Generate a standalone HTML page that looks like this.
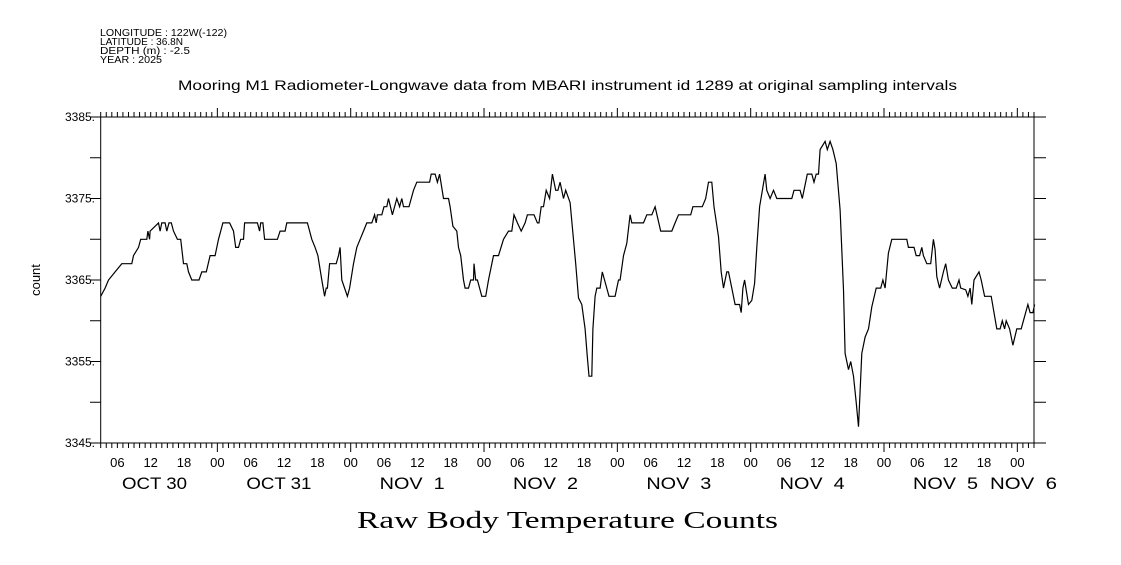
<!DOCTYPE html>
<html><head><meta charset="utf-8">
<style>
body{margin:0;background:#fff;}
svg text{font-family:"Liberation Sans",sans-serif;fill:#000;}
</style></head>
<body>
<svg id="chart" width="1121" height="560" xmlns="http://www.w3.org/2000/svg">
<g>
<text x="100" y="36" font-size="10" textLength="127" lengthAdjust="spacingAndGlyphs">LONGITUDE : 122W(-122)</text>
<text x="100" y="45" font-size="10" textLength="83" lengthAdjust="spacingAndGlyphs">LATITUDE : 36.8N</text>
<text x="100" y="54" font-size="10" textLength="90" lengthAdjust="spacingAndGlyphs">DEPTH (m) : -2.5</text>
<text x="100" y="63" font-size="10" textLength="62" lengthAdjust="spacingAndGlyphs">YEAR : 2025</text>
</g>
<text x="178" y="90" font-size="14" textLength="779" lengthAdjust="spacingAndGlyphs">Mooring M1 Radiometer-Longwave data from MBARI instrument id 1289 at original sampling intervals</text>
<text x="357" y="528" font-size="24" textLength="421" lengthAdjust="spacingAndGlyphs" style="font-family:'Liberation Serif',serif">Raw Body Temperature Counts</text>
<text transform="translate(40,280) rotate(-90)" font-size="13" text-anchor="middle">count</text>
<g id="axes"></g>
<path id="line" fill="none" stroke="#000" stroke-width="1.2"/>
</svg>
<script>
const hours=[0,0.8,1.4,2.6,3.8,5.6,5.9,6.8,7.2,8.3,8.5,8.8,8.9,10.4,10.7,11,11.6,11.9,12.3,12.7,13.1,13.8,14.4,14.9,15.5,15.8,16.4,17.7,18.2,19,19.7,20.6,21.2,22,23.2,23.9,24.3,24.8,25.2,25.7,25.9,28.2,28.6,28.8,29.2,29.5,31.8,32.3,33.2,33.5,37.2,38,38.6,39.1,39.8,40.3,40.6,40.8,41.2,42.4,42.8,43.1,43.4,44.4,44.8,45.5,46.1,46.7,47.3,47.9,48.8,49.3,49.6,49.8,50.6,51,51.5,51.8,52.5,53.3,53.8,54.2,54.5,55.5,56.3,56.9,59.2,59.5,60.2,60.6,61,61.7,62.6,62.9,63.4,64.1,64.4,64.8,65.3,65.6,66.2,66.6,67.1,67.2,67.5,67.8,68.6,69.3,69.8,70.7,71.6,72.5,73.4,74,74.4,75,75.7,76.4,76.8,78,78.6,78.9,79.3,79.7,80.2,80.8,81.3,81.9,82.3,82.7,83.3,83.7,84.5,85.5,86.0,86.6,87.2,87.6,87.9,88.4,88.6,89.0,89.3,89.9,90.3,91.5,92.6,93.2,93.5,94.1,94.7,95.3,95.6,97.7,98.3,99.2,99.8,100.8,102.8,103.4,104.0,106.2,106.6,108.3,108.9,109.4,110.0,110.4,111.2,111.7,112.1,112.7,113.0,113.6,114.2,115.0,115.3,115.6,115.9,116.6,117.2,117.7,118.1,118.6,119.6,119.9,120.5,121.1,121.7,124.4,124.8,125.9,126.3,127.2,128.0,128.4,128.8,129.2,129.5,130.4,130.8,131.3,131.8,132.4,133.1,133.7,134.0,134.6,135.0,135.5,136.0,136.4,137.0,137.6,138.2,138.8,139.6,140.4,140.8,141.2,141.8,142.4,145.1,145.4,146.4,146.8,147.4,147.8,148.1,148.7,149.4,149.9,150.2,150.5,151.0,151.7,152.1,152.6,153.3,154.0,154.5,154.8,155.7,156.1,156.5,156.8,157.2,158.1,158.5,159.1,160.3,161.3,161.9,162.3,162.7,163.0,163.6,164.2,164.9,165.7,166.1,166.9,167.3,167.8,168.1];
const counts=[3363,3364,3365,3366,3367,3367,3368,3369,3370,3370,3371,3370,3371,3372,3371,3372,3372,3371,3372,3372,3371,3370,3370,3367,3367,3366,3365,3365,3366,3366,3368,3368,3370,3372,3372,3371,3369,3369,3370,3370,3372,3372,3371,3372,3372,3370,3370,3371,3371,3372,3372,3370,3369,3368,3365,3363,3364,3364,3367,3367,3368,3369,3365,3363,3364,3367,3369,3370,3371,3372,3372,3373,3372,3373,3373,3374,3374,3375,3373,3375,3374,3375,3374,3374,3376,3377,3377,3378,3378,3377,3378,3375,3375,3374,3371.6,3371,3369,3368,3365,3364,3364,3365,3365,3367,3365,3365,3363,3363,3365,3368,3368,3370,3371,3371,3373,3372,3371,3372,3373,3373,3372,3372,3374,3374,3376,3375,3378,3376,3376,3377,3375,3376,3374.5,3367,3362.8,3362,3359,3355.6,3353.2,3353.2,3359,3363,3364,3364,3366,3363,3363,3365,3365,3368,3369.5,3373,3372,3372,3373,3373,3374,3371,3371,3372,3373,3373,3374,3374,3375,3377,3377,3374,3370.3,3366,3364,3366,3366,3364,3362,3362,3361,3364,3365,3362,3362.5,3364.6,3369,3374,3378,3376,3375,3376,3375,3375,3376,3376,3375,3378,3378,3377,3378,3378,3381,3382,3381,3382,3381,3379.3,3373.6,3363.8,3356,3354,3355,3353.2,3350,3347,3356,3358,3359,3361.7,3364,3364,3365,3364,3368.3,3370,3370,3369,3369,3368,3368,3369,3368,3367,3367,3370,3368.7,3365.4,3364,3366,3367,3365,3364,3364,3365,3364,3363.8,3363,3364,3362,3365,3366,3365,3363,3363,3359,3359,3360,3359,3360,3359,3357,3359,3359,3360,3362,3361,3361,3362];
const yTicks=[3345,3355,3365,3375,3385];
const yTickLabels=["3345.","3355.","3365.","3375.","3385."];
const hourLabels=["00","06","12","18"];
const dayLabels=["OCT 30","OCT 31","NOV\u00a0\u00a01","NOV\u00a0\u00a02","NOV\u00a0\u00a03","NOV\u00a0\u00a04","NOV\u00a0\u00a05","NOV\u00a0\u00a06"];
const startHour=3, totalHours=168;
const L=100.7,R=1034,T=117,B=443;
const xs=h=>L+(h/totalHours)*(R-L);
const ys=v=>B-(v-3345)/40*(B-T);
const NS="http://www.w3.org/2000/svg";
const ax=document.getElementById('axes');
function ln(x1,y1,x2,y2,name){const e=document.createElementNS(NS,'line');e.setAttribute('x1',x1);e.setAttribute('y1',y1);e.setAttribute('x2',x2);e.setAttribute('y2',y2);e.setAttribute('stroke','#000');e.setAttribute('stroke-width','1');


ax.appendChild(e);return e;}
function tx(x,y,s,size,anchor,name){const e=document.createElementNS(NS,'text');e.setAttribute('x',x);e.setAttribute('y',y);e.setAttribute('font-size',size);e.setAttribute('text-anchor',anchor);e.textContent=s;


ax.appendChild(e);return e;}
ln(92,T,1046,T,'top-axis');ln(92,B,1046,B,'bottom-axis');
ln(L,T,L,B,'left-axis');ln(R,T,R,B,'right-axis');
for(let v=3345;v<=3385;v+=5){const y=ys(v);ln(90,y,L,y,'y-tick');ln(R,y,1046,y,'y-tick-right');}
yTicks.forEach((v,i)=>tx(95,ys(v)+4,yTickLabels[i],12,'end','y-tick-label'));
for(let h=0;h<=totalHours;h++){const x=xs(h);const abs=(h+startHour)%24;const len=abs===0?9:5;
ln(x,B,x,B+len,'x-tick');ln(x,T,x,T-len,'x-tick-top');
if(abs%6===0) tx(x,467,hourLabels[abs/6],13,'middle','hour-label');}
dayLabels.forEach((d,i)=>{const mid=xs(i*24-startHour);let x=mid+29; if(i===0) x=122; if(i===7) x=990;
const e=tx(x,489,d,17,'start','day-label');
e.setAttribute('textLength',i===7?67:65);
e.setAttribute('lengthAdjust','spacingAndGlyphs');});
let p='';hours.forEach((h,i)=>{p+=(i?'L':'M')+xs(h).toFixed(1)+','+ys(counts[i]).toFixed(1);});
document.getElementById('line').setAttribute('d',p);
</script>
</body></html>
